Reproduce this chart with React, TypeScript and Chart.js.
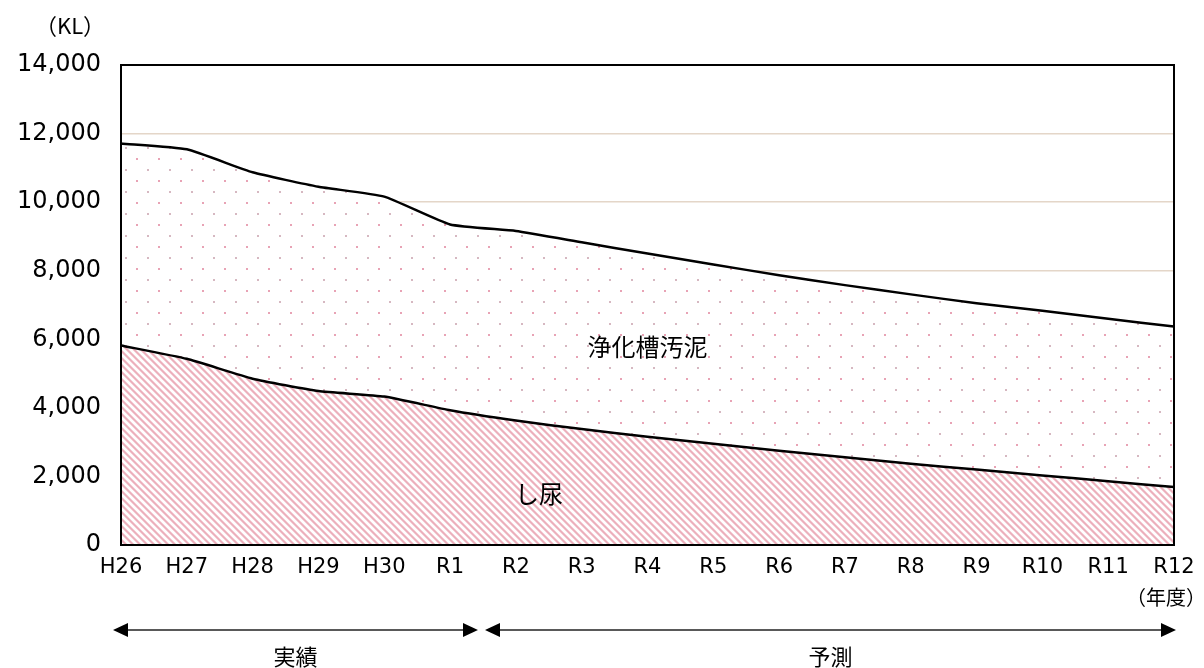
import React, { useEffect, useRef } from "react";
import { Chart, registerables } from "chart.js";

Chart.register(...registerables);

const categories = ["H26", "H27", "H28", "H29", "H30", "R1", "R2", "R3", "R4", "R5", "R6", "R7", "R8", "R9", "R10", "R11", "R12"];
// し尿 (night soil)
const shinyo = [5820, 5430, 4850, 4490, 4330, 3930, 3630, 3380, 3160, 2950, 2750, 2560, 2370, 2200, 2030, 1860, 1690];
// 浄化槽汚泥 (septic tank sludge), stacked on top of し尿
const sludge = [5890, 6110, 6020, 5960, 5830, 5420, 5530, 5450, 5340, 5230, 5120, 5020, 4940, 4850, 4800, 4740, 4680];
const yTicks = [0, 2000, 4000, 6000, 8000, 10000, 12000, 14000];

const CJK = '"Noto Sans CJK JP", sans-serif';
const NUM = '"DejaVu Sans", "Noto Sans CJK JP", sans-serif';

function makeStripes(): CanvasPattern | string {
  const c = document.createElement("canvas");
  const n = 7;
  c.width = n;
  c.height = n;
  const ctx = c.getContext("2d");
  if (!ctx) return "#f0c4cc";
  const img = ctx.createImageData(n, n);
  const cov = [0.55, 1, 1, 0.55, 0, 0, 0];
  const pr = 236, pg = 176, pb = 188;
  for (let y = 0; y < n; y++) {
    for (let x = 0; x < n; x++) {
      const d = (((x - y) % n) + n) % n;
      const a = cov[d];
      const i = (y * n + x) * 4;
      img.data[i] = Math.round(255 + (pr - 255) * a);
      img.data[i + 1] = Math.round(255 + (pg - 255) * a);
      img.data[i + 2] = Math.round(255 + (pb - 255) * a);
      img.data[i + 3] = 255;
    }
  }
  ctx.putImageData(img, 0, 0);
  return ctx.createPattern(c, "repeat") as CanvasPattern;
}

function makeDots(): CanvasPattern | string {
  const c = document.createElement("canvas");
  c.width = 22;
  c.height = 22;
  const ctx = c.getContext("2d");
  if (!ctx) return "#fff";
  ctx.fillStyle = "#fff";
  ctx.fillRect(0, 0, 22, 22);
  ctx.fillStyle = "rgba(226,140,162,0.8)";
  ctx.fillRect(4, 4, 2, 2);
  ctx.fillStyle = "rgba(200,160,172,0.75)";
  ctx.fillRect(15, 15, 2, 2);
  return ctx.createPattern(c, "repeat") as CanvasPattern;
}

const overlayPlugin = {
  id: "overlay",
  afterDraw(chart: any) {
    const { ctx, chartArea } = chart;
    const xs = chart.scales.x;
    const ys = chart.scales.y;
    ctx.save();
    // plot border
    ctx.strokeStyle = "#000";
    ctx.lineWidth = 2;
    ctx.strokeRect(chartArea.left, chartArea.top, chartArea.right - chartArea.left, chartArea.bottom - chartArea.top);

    ctx.fillStyle = "#000";
    ctx.textAlign = "center";
    ctx.textBaseline = "middle";
    // area labels
    ctx.font = `24px ${CJK}`;
    ctx.fillText("浄化槽汚泥", xs.getPixelForValue(8), ys.getPixelForValue(5790));
    ctx.fillText("し尿", xs.getPixelForValue(6.35), ys.getPixelForValue(1500));

    // unit labels
    ctx.font = `22px ${CJK}`;
    ctx.fillText("（KL）", 70, 26);
    ctx.font = `20px ${CJK}`;
    ctx.fillText("（年度）", 1166, 597);

    // arrows
    const yA = 630;
    const mid = (xs.getPixelForValue(5) + xs.getPixelForValue(6)) / 2;
    const segs = [
      [xs.getPixelForValue(0) - 8, mid - 5, "実績"],
      [mid + 2, xs.getPixelForValue(16) + 2, "予測"],
    ] as [number, number, string][];
    ctx.strokeStyle = "#222";
    ctx.fillStyle = "#000";
    ctx.lineWidth = 1.5;
    for (const [a, b, label] of segs) {
      ctx.beginPath();
      ctx.moveTo(a + 10, yA);
      ctx.lineTo(b - 10, yA);
      ctx.stroke();
      ctx.beginPath();
      ctx.moveTo(a, yA);
      ctx.lineTo(a + 15, yA - 7);
      ctx.lineTo(a + 15, yA + 7);
      ctx.closePath();
      ctx.fill();
      ctx.beginPath();
      ctx.moveTo(b, yA);
      ctx.lineTo(b - 15, yA - 7);
      ctx.lineTo(b - 15, yA + 7);
      ctx.closePath();
      ctx.fill();
      ctx.font = `22px ${CJK}`;
      ctx.fillText(label, (a + b) / 2, 657);
    }
    ctx.restore();
  },
};

export default function App() {
  const ref = useRef<HTMLCanvasElement>(null);
  useEffect(() => {
    if (!ref.current) return;
    const chart = new Chart(ref.current, {
      type: "line",
      data: {
        labels: categories,
        datasets: [
          {
            label: "し尿",
            data: shinyo,
            borderColor: "#000",
            borderWidth: 2.5,
            backgroundColor: makeStripes() as any,
            fill: "origin",
            pointRadius: 0,
            tension: 0.15,
          },
          {
            label: "浄化槽汚泥",
            data: sludge,
            borderColor: "#000",
            borderWidth: 2.5,
            backgroundColor: makeDots() as any,
            fill: "-1",
            pointRadius: 0,
            tension: 0.15,
          },
        ],
      },
      options: {
        responsive: false,
        animation: false,
        layout: { padding: { top: 65, right: 30, left: 0, bottom: 0 } },
        plugins: { legend: { display: false }, tooltip: { enabled: false } },
        scales: {
          x: {
            offset: false,
            grid: { display: false, drawTicks: false },
            border: { display: true, color: "#000", width: 2 },
            ticks: {
              autoSkip: false,
              maxRotation: 0,
              padding: 10,
              color: "#000",
              font: { family: NUM, size: 21 },
            },
            afterFit: (s: any) => {
              s.height = 668 - 545;
              s.paddingLeft = 0;
              s.paddingRight = 0;
            },
          },
          y: {
            stacked: true,
            min: 0,
            max: 14000,
            afterBuildTicks: (s: any) => {
              s.ticks = yTicks.map((v) => ({ value: v }));
            },
            grid: { color: "rgb(228,214,200)", lineWidth: 1.5, drawTicks: false },
            border: { display: true, color: "#000", width: 2 },
            ticks: {
              padding: 20,
              color: "#000",
              font: { family: NUM, size: 24 },
              callback: (v: any) => Number(v).toLocaleString("en-US"),
            },
            afterFit: (s: any) => {
              s.width = 121;
              s.paddingTop = 0;
              s.paddingBottom = 0;
            },
          },
        },
      },
      plugins: [overlayPlugin],
    });
    return () => chart.destroy();
  }, []);
  return (
    <div style={{ position: "fixed", left: 0, top: 0, width: 1204, height: 668, background: "#fff" }}>
      <canvas ref={ref} width={1204} height={668} />
    </div>
  );
}
